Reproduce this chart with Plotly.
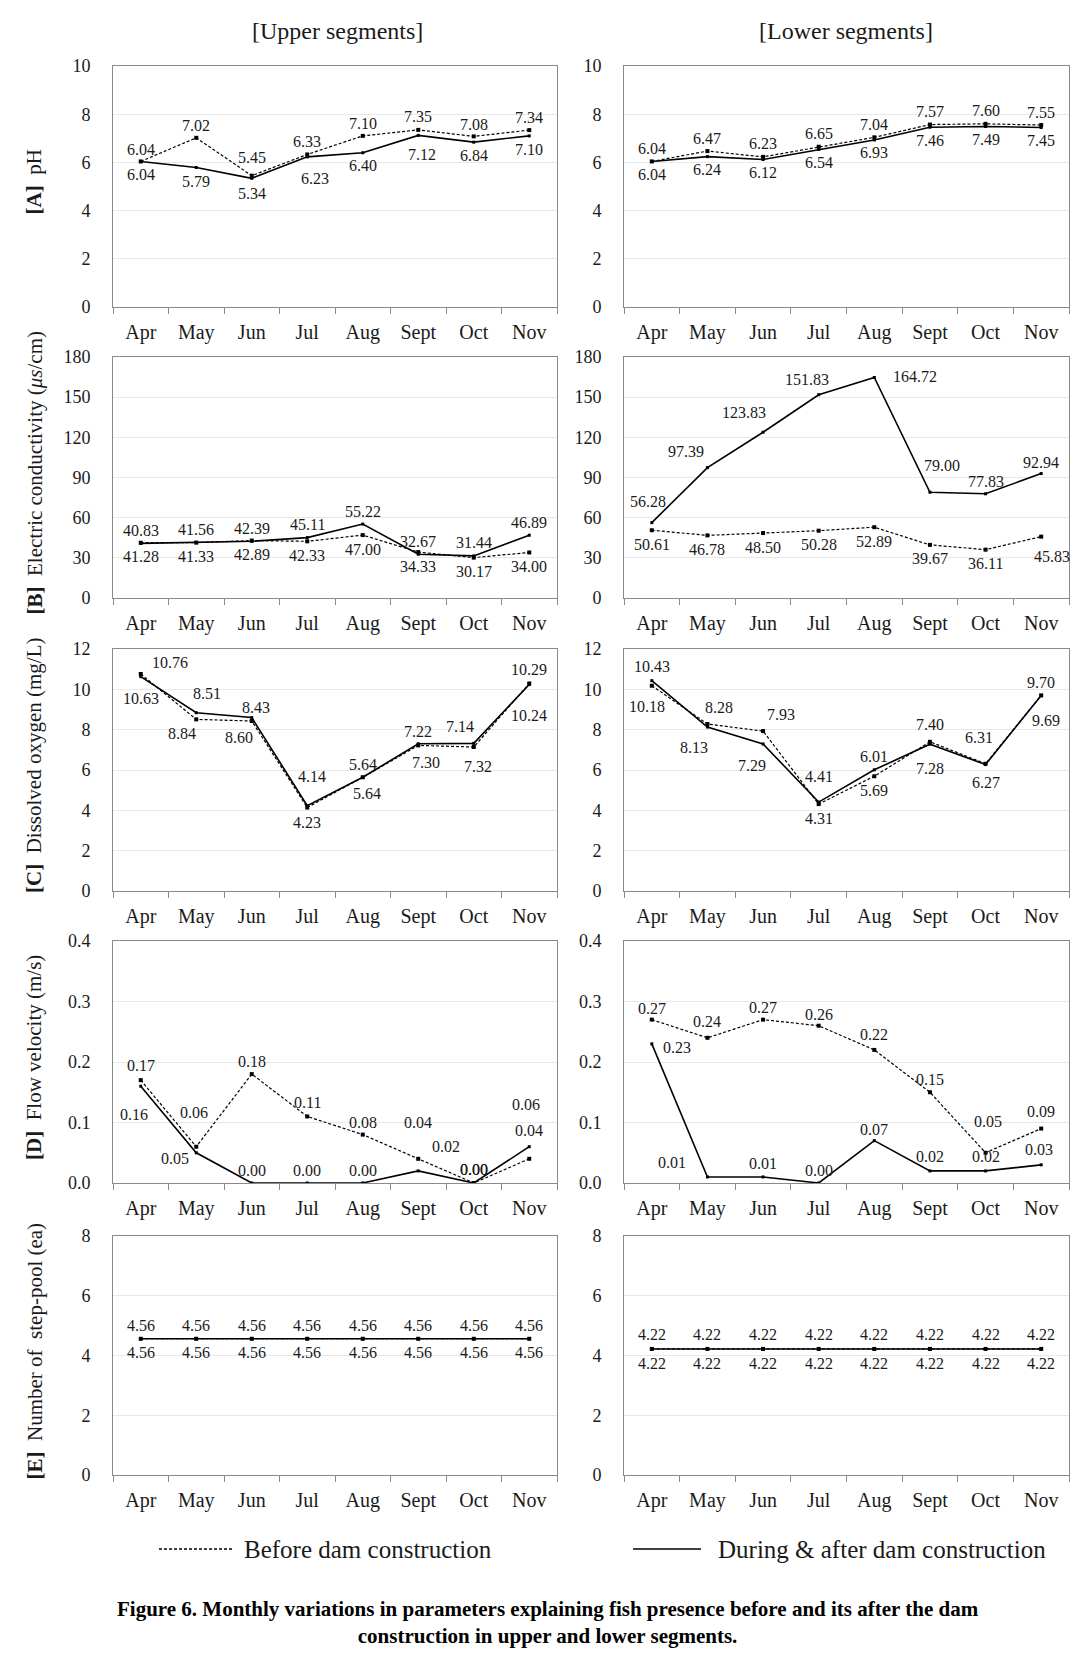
import plotly.graph_objects as go
from plotly.subplots import make_subplots

W, H = 1091, 1669
FONT = "Liberation Serif, Times New Roman, serif"
INK = "#1a1a1a"

months = ["Apr", "May", "Jun", "Jul", "Aug", "Sept", "Oct", "Nov"]

# [A] pH
ph_up_before = [6.04, 7.02, 5.45, 6.33, 7.10, 7.35, 7.08, 7.34]
ph_up_during = [6.04, 5.79, 5.34, 6.23, 6.40, 7.12, 6.84, 7.10]
ph_low_before = [6.04, 6.47, 6.23, 6.65, 7.04, 7.57, 7.60, 7.55]
ph_low_during = [6.04, 6.24, 6.12, 6.54, 6.93, 7.46, 7.49, 7.45]

# [B] electric conductivity
ec_up_before = [41.28, 41.33, 42.89, 42.33, 47.00, 34.33, 30.17, 34.00]
ec_up_during = [40.83, 41.56, 42.39, 45.11, 55.22, 32.67, 31.44, 46.89]
ec_low_before = [50.61, 46.78, 48.50, 50.28, 52.89, 39.67, 36.11, 45.83]
ec_low_during = [56.28, 97.39, 123.83, 151.83, 164.72, 79.00, 77.83, 92.94]

# [C] dissolved oxygen
do_up_before = [10.76, 8.51, 8.43, 4.14, 5.64, 7.22, 7.14, 10.29]
do_up_during = [10.63, 8.84, 8.60, 4.23, 5.64, 7.30, 7.32, 10.24]
do_low_before = [10.18, 8.28, 7.93, 4.31, 5.69, 7.40, 6.31, 9.70]
do_low_during = [10.43, 8.13, 7.29, 4.41, 6.01, 7.28, 6.27, 9.69]

# [D] flow velocity
fv_up_before = [0.17, 0.06, 0.18, 0.11, 0.08, 0.04, 0.00, 0.04]
fv_up_during = [0.16, 0.05, 0.00, 0.00, 0.00, 0.02, 0.00, 0.06]
fv_low_before = [0.27, 0.24, 0.27, 0.26, 0.22, 0.15, 0.05, 0.09]
fv_low_during = [0.23, 0.01, 0.01, 0.00, 0.07, 0.02, 0.02, 0.03]

# [E] number of step-pools
sp_up_before = [4.56, 4.56, 4.56, 4.56, 4.56, 4.56, 4.56, 4.56]
sp_up_during = [4.56, 4.56, 4.56, 4.56, 4.56, 4.56, 4.56, 4.56]
sp_low_before = [4.22, 4.22, 4.22, 4.22, 4.22, 4.22, 4.22, 4.22]
sp_low_during = [4.22, 4.22, 4.22, 4.22, 4.22, 4.22, 4.22, 4.22]

# label offsets (dx, dy) in px, dy > 0 is up
UP = [(0, 13)] * 8
DN = [(0, -13)] * 8
label_offsets = {
    "A": {
        "up": ([(0, 12), (0, 12), (0, 18), (0, 13), (0, 12), (0, 13), (0, 12), (0, 13)],
               [(0, -13), (0, -14), (0, -15), (8, -22), (0, -13), (4, -19), (0, -13), (0, -14)]),
        "low": (UP, DN),
    },
    "B": {
        "up": ([(0, -14)] * 8, UP),
        "low": ([(0, -14)] * 7 + [(11, -20)],
                [(-4, 21), (-21, 16), (-19, 20), (-12, 15), (41, 1), (12, 27), (0, 12), (0, 11)]),
    },
    "C": {
        "up": ([(29, 12), (11, 26), (4, 14), (5, 31), (0, 13), (0, 14), (-14, 21), (0, 14)],
               [(0, -22), (-14, -21), (-13, -20), (0, -17), (4, -16), (8, -19), (4, -23), (0, -31)]),
        "low": ([(-5, -21), (12, 17), (18, 17), (0, -14), (0, -14), (0, 17), (-7, 26), (0, 13)],
                [(0, 14), (-13, -20), (-11, -22), (0, 26), (0, 13), (0, -24), (0, -18), (5, -25)]),
    },
    "D": {
        "up": ([(0, 15), (-2, 34), (0, 13), (0, 14), (0, 12), (0, 36), (0, 14), (0, 28)],
               [(-7, -28), (-21, -6), (0, 13), (0, 13), (0, 13), (28, 24), (0, 14), (-3, 42)]),
        "low": ([(0, 11), (0, 16), (0, 12), (0, 11), (0, 15), (0, 13), (2, 31), (0, 17)],
                [(25, -4), (-35, 14), (0, 13), (0, 13), (0, 11), (0, 14), (0, 14), (-2, 15)]),
    },
    "E": {
        "up": ([(0, 13)] * 8, [(0, -14)] * 8),
        "low": ([(0, 14)] * 8, [(0, -15)] * 8),
    },
}

panels = [
    ("A", "<b>[A]</b>  pH", 10, 2, "d",
     ph_up_before, ph_up_during, ph_low_before, ph_low_during),
    ("B", "<b>[B]</b>  Electric conductivity (<i>μs</i>/cm)", 180, 30, "d",
     ec_up_before, ec_up_during, ec_low_before, ec_low_during),
    ("C", "<b>[C]</b>  Dissolved oxygen (mg/L)", 12, 2, "d",
     do_up_before, do_up_during, do_low_before, do_low_during),
    ("D", "<b>[D]</b>  Flow velocity (m/s)", 0.4, 0.1, ".1f",
     fv_up_before, fv_up_during, fv_low_before, fv_low_during),
    ("E", "<b>[E]</b>  Number of  step-pool (ea)", 8, 2, "d",
     sp_up_before, sp_up_during, sp_low_before, sp_low_during),
]

# panel boxes in page pixels
col_x = [(113, 557), (624, 1069)]
row_y = [(66, 307), (357, 598), (649, 891), (941, 1183), (1236, 1475)]


def paper_note(x_px, y_px, text, size, **kw):
    # text placed by page pixels, centred on the point
    d = dict(x=x_px / W, y=1 - y_px / H, xref="paper", yref="paper",
             xanchor="center", yanchor="middle", text=text, showarrow=False,
             font=dict(family=FONT, size=size, color=INK))
    d.update(kw)
    return d


fig = make_subplots(rows=5, cols=2)

annotations = []
for r, (key, ytitle, ymax, dtick, fmt, ub, ud, lb, ld) in enumerate(panels, start=1):
    for c, (before, during, side) in enumerate([(ub, ud, "up"), (lb, ld, "low")], start=1):
        idx = (r - 1) * 2 + c
        xname = "x" if idx == 1 else f"x{idx}"
        yname = "y" if idx == 1 else f"y{idx}"

        fig.add_trace(go.Scatter(
            x=months, y=before, mode="lines+markers", name="Before dam construction",
            line=dict(color="black", width=1.2, dash="3px,2px"),
            marker=dict(symbol="square", size=4, color="black"),
            showlegend=False, hovertemplate="%{x}: %{y:.2f}<extra></extra>"
        ), row=r, col=c)
        fig.add_trace(go.Scatter(
            x=months, y=during, mode="lines+markers", name="During & after dam construction",
            line=dict(color="black", width=1.6),
            marker=dict(symbol="square", size=3, color="black"),
            showlegend=False, hovertemplate="%{x}: %{y:.2f}<extra></extra>"
        ), row=r, col=c)

        off_before, off_during = label_offsets[key][side]
        for series, offs in [(before, off_before), (during, off_during)]:
            for m, v, (dx, dy) in zip(months, series, offs):
                annotations.append(dict(
                    x=m, y=v, xref=xname, yref=yname, text=f"{v:.2f}",
                    xanchor="center", yanchor="middle",
                    showarrow=False, xshift=dx, yshift=dy,
                    font=dict(family=FONT, size=16, color=INK)
                ))

        x0, x1 = col_x[c - 1]
        top, bot = row_y[r - 1]
        fig.update_xaxes(
            domain=[x0 / W, x1 / W], type="category", range=[-0.5, 7.5], automargin=False,
            showline=True, mirror=True, linecolor="#8a8a8a", linewidth=1,
            ticks="outside", tickson="boundaries", ticklen=6, tickcolor="#8a8a8a",
            tickfont=dict(family=FONT, size=20, color=INK), ticklabelstandoff=7,
            showgrid=False, row=r, col=c
        )
        fig.update_yaxes(
            domain=[1 - bot / H, 1 - top / H], range=[0, ymax], dtick=dtick, automargin=False,
            tickformat=fmt, showline=True, mirror=True, linecolor="#8a8a8a", linewidth=1,
            showgrid=True, gridcolor="#e8e8e8", gridwidth=1, zeroline=False,
            ticks="", tickfont=dict(family=FONT, size=18, color=INK), ticklabelstandoff=18,
            row=r, col=c
        )

    # y-axis title for the row
    top, bot = row_y[r - 1]
    annotations.append(paper_note(34, (top + bot) / 2 - 4, ytitle, 21, textangle=-90))

# column headers
annotations.append(paper_note(337, 31, "[Upper segments]", 24))
annotations.append(paper_note(846, 31, "[Lower segments]", 24))

# legend
legend_y = 1 - 1549 / H
shapes = [
    dict(type="line", xref="paper", yref="paper", x0=159 / W, x1=232 / W,
         y0=legend_y, y1=legend_y, line=dict(color="black", width=1.3, dash="3px,2px")),
    dict(type="line", xref="paper", yref="paper", x0=633 / W, x1=701 / W,
         y0=legend_y, y1=legend_y, line=dict(color="black", width=1.6)),
]
annotations.append(paper_note(242, 1549, "Before dam construction", 25, xanchor="left"))
annotations.append(paper_note(716, 1549, "During & after dam construction", 25, xanchor="left"))

# caption
annotations.append(paper_note(
    548, 1622,
    "<b>Figure 6. Monthly variations in parameters explaining fish presence before and its after the dam"
    "<br>construction in upper and lower segments.</b>",
    21, align="center", font=dict(family=FONT, size=21, color="black")
))

fig.update_layout(
    width=W, height=H,
    margin=dict(l=0, r=0, t=0, b=0, pad=0),
    paper_bgcolor="white", plot_bgcolor="white",
    annotations=annotations, shapes=shapes,
    showlegend=False,
    font=dict(family=FONT, color=INK),
)

fig.write_html("out.html", config={"displayModeBar": False},
               post_script="document.body.style.margin='0';")
